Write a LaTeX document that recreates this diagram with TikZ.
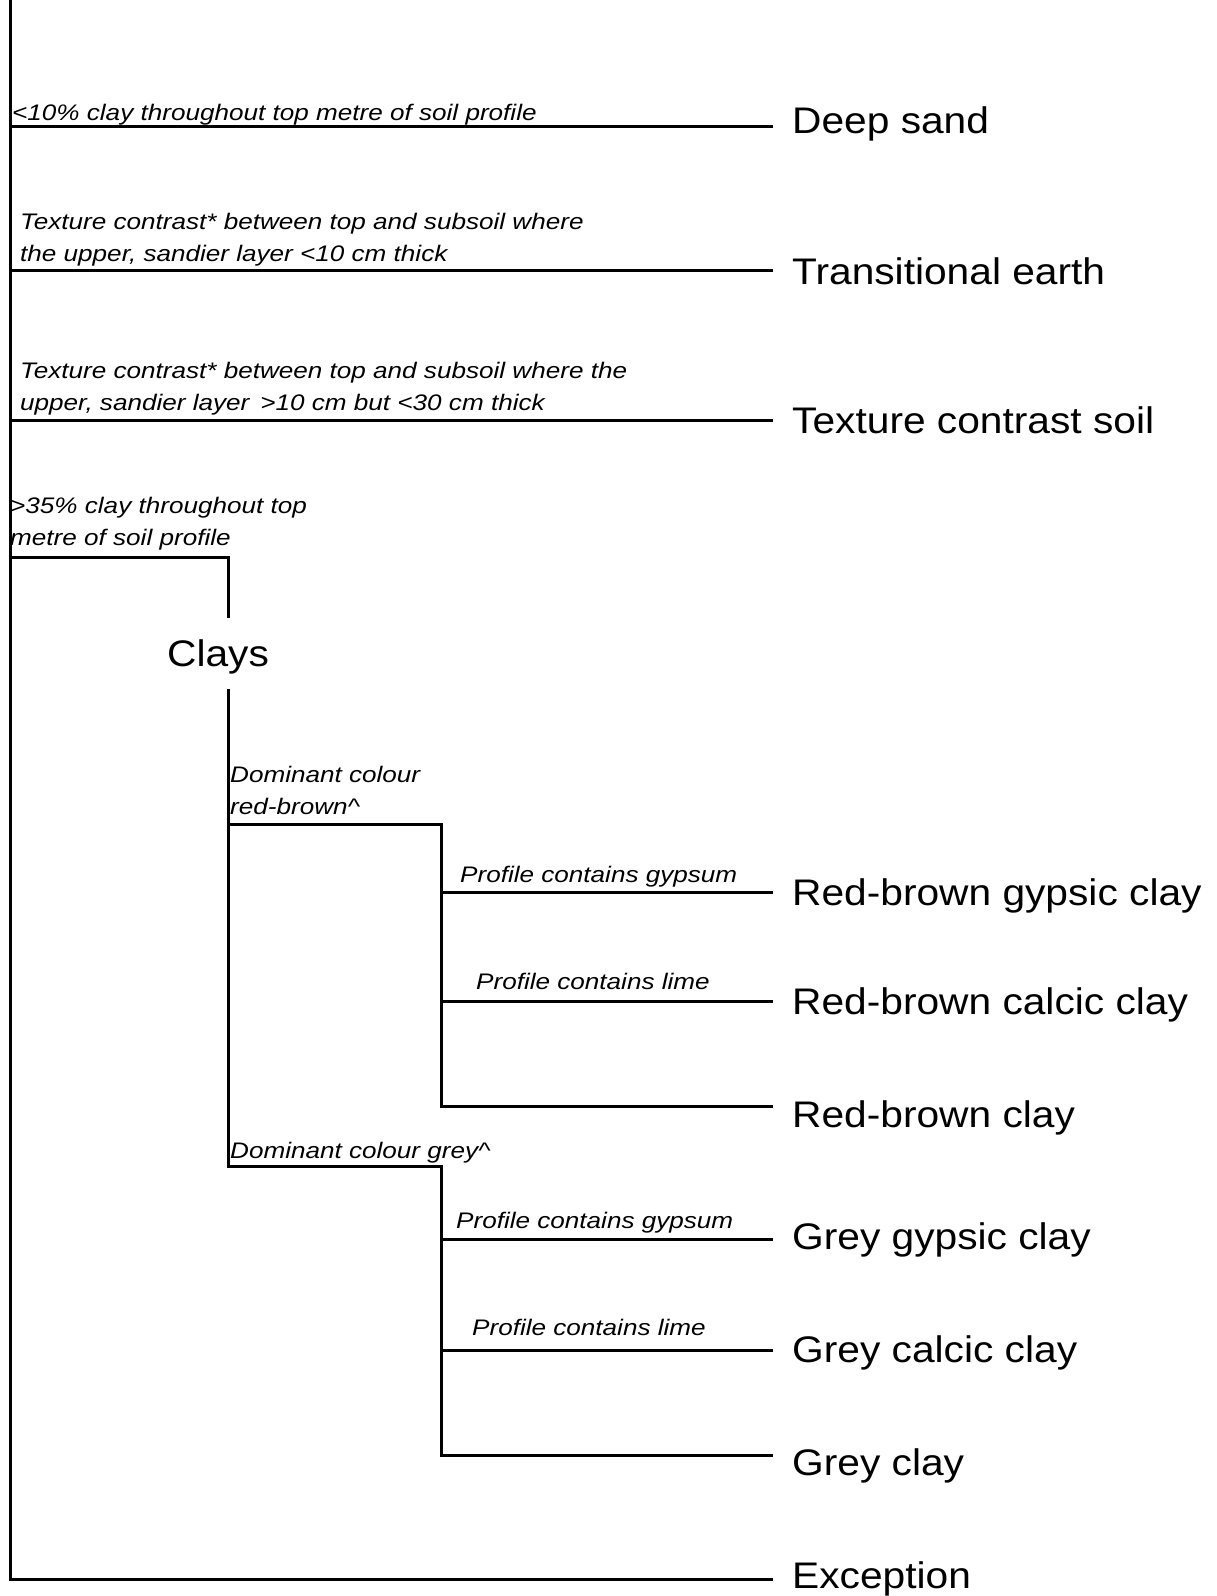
\documentclass[tikz,border=0pt]{standalone}
\usepackage{fontspec}
\setmainfont{Liberation Sans}[FakeStretch=1.1]
\newfontfamily\condfont{Liberation Sans}[FakeStretch=1.16]
\begin{document}
\begin{tikzpicture}[x=1pt,y=-1pt,
  ln/.style={line width=3pt, line cap=rect},
  cond/.style={anchor=base west, inner sep=0pt, font=\condfont\itshape\fontsize{22.5}{31.5}\selectfont, align=left},
  leaf/.style={anchor=base west, inner sep=0pt, font=\fontsize{37}{44}\selectfont}]
\useasboundingbox (0,0) rectangle (1217,1596);
% junctions
\coordinate (top) at (10,0);
\coordinate (j1) at (10,126);
\coordinate (j2) at (10,270);
\coordinate (j3) at (10,420);
\coordinate (j4) at (10,557);
\coordinate (j5) at (10,1579);
\coordinate (c1) at (228,557);
\coordinate (c2) at (228,616);
\coordinate (c3) at (228,690);
\coordinate (r1) at (228,824);
\coordinate (g1) at (228,1166);
\coordinate (r2) at (441,824);
\coordinate (r3) at (441,892);
\coordinate (r4) at (441,1001);
\coordinate (r5) at (441,1106);
\coordinate (g2) at (441,1166);
\coordinate (g3) at (441,1239);
\coordinate (g4) at (441,1350);
\coordinate (g5) at (441,1455);
\coordinate (e1) at (771,126);
\coordinate (e2) at (771,270);
\coordinate (e3) at (771,420);
\coordinate (e4) at (771,892);
\coordinate (e5) at (771,1001);
\coordinate (e6) at (771,1106);
\coordinate (e7) at (771,1239);
\coordinate (e8) at (771,1350);
\coordinate (e9) at (771,1455);
\coordinate (e10) at (771,1579);
% leaves
\node[leaf] (deep) at (792,133) {Deep sand};
\node[leaf] (trans) at (792,284) {Transitional earth};
\node[leaf] (tcs) at (792,433) {Texture contrast soil};
\node[leaf, anchor=base] (clays) at (218,666) {Clays};
\node[leaf] (rbg) at (792,905) {Red-brown gypsic clay};
\node[leaf] (rbc) at (792,1014) {Red-brown calcic clay};
\node[leaf] (rb) at (792,1127) {Red-brown clay};
\node[leaf] (gg) at (792,1249) {Grey gypsic clay};
\node[leaf] (gc) at (792,1362) {Grey calcic clay};
\node[leaf] (gy) at (792,1475) {Grey clay};
\node[leaf] (ex) at (792,1588) {Exception};
% conditions
\node[cond] (t1) at (12,120) {<10\% clay throughout top metre of soil profile};
\node[cond] (t2) at (20,261) {Texture contrast* between top and subsoil where\\the upper, sandier layer <10 cm thick};
\node[cond] (t3) at (20,410) {Texture contrast* between top and subsoil where the\\upper, sandier layer \,>10 cm but <30 cm thick};
\node[cond] (t4) at (10,545) {>35\% clay throughout top\\metre of soil profile};
\node[cond] (t5) at (230,814) {Dominant colour\\red-brown\^{}};
\node[cond] (t6) at (460,882) {Profile contains gypsum};
\node[cond] (t7) at (476,989) {Profile contains lime};
\node[cond] (t8) at (230,1158) {Dominant colour grey\^{}};
\node[cond] (t9) at (456,1228) {Profile contains gypsum};
\node[cond] (t10) at (472,1335) {Profile contains lime};
% lines
\draw[ln] (top) -- (j5) -- (e10);
\draw[ln] (j1) -- (e1);
\draw[ln] (j2) -- (e2);
\draw[ln] (j3) -- (e3);
\draw[ln] (j4) -- (c1) -- (c2);
\draw[ln] (c3) -- (g1) -- (g2);
\draw[ln] (r1) -- (r2) -- (r5) -- (e6);
\draw[ln] (r3) -- (e4);
\draw[ln] (r4) -- (e5);
\draw[ln] (g2) -- (g5) -- (e9);
\draw[ln] (g3) -- (e7);
\draw[ln] (g4) -- (e8);
\end{tikzpicture}
\end{document}
